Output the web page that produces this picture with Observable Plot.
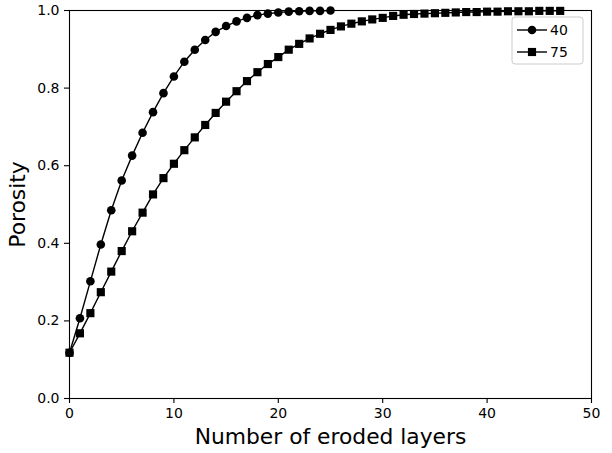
<!DOCTYPE html>
<html><head><meta charset="utf-8">
<script src="https://cdn.jsdelivr.net/npm/d3@7"></script>
<script src="https://cdn.jsdelivr.net/npm/@observablehq/plot@0.6"></script>
<style>html,body{margin:0;padding:0;background:#fff;overflow:hidden;} #chart{width:612px;height:453px;}</style>
</head><body><div id="chart"></div>
<script>
const seriesNames = ["40", "75"];
const layers40 = [0,1,2,3,4,5,6,7,8,9,10,11,12,13,14,15,16,17,18,19,20,21,22,23,24,25];
const porosity40 = [0.118,0.207,0.302,0.397,0.485,0.562,0.626,0.685,0.738,0.787,0.830,0.868,0.899,0.924,0.945,0.960,0.972,0.981,0.988,0.992,0.995,0.997,0.998,0.999,0.999,1.000];
const layers75 = [0,1,2,3,4,5,6,7,8,9,10,11,12,13,14,15,16,17,18,19,20,21,22,23,24,25,26,27,28,29,30,31,32,33,34,35,36,37,38,39,40,41,42,43,44,45,46,47];
const porosity75 = [0.118,0.168,0.220,0.274,0.327,0.380,0.431,0.479,0.526,0.568,0.605,0.640,0.673,0.705,0.736,0.765,0.792,0.818,0.841,0.862,0.880,0.899,0.914,0.928,0.940,0.950,0.959,0.966,0.972,0.977,0.981,0.986,0.989,0.991,0.992,0.993,0.994,0.995,0.996,0.996,0.997,0.997,0.998,0.998,0.998,0.999,0.999,0.999];
const xTicks = [0, 10, 20, 30, 40, 50];
const yTicks = [0.0, 0.2, 0.4, 0.6, 0.8, 1.0];
const xLabel = "Number of eroded layers";
const yLabel = "Porosity";

const d40 = layers40.map((x, i) => ({layer: x, porosity: porosity40[i], series: seriesNames[0]}));
const d75 = layers75.map((x, i) => ({layer: x, porosity: porosity75[i], series: seriesNames[1]}));

const font = "'DejaVu Sans', sans-serif";
const chart = Plot.plot({
  width: 612, height: 453,
  marginLeft: 69, marginRight: 21, marginTop: 10, marginBottom: 55,
  style: {fontFamily: font, background: "white", color: "black", overflow: "visible"},
  x: {domain: [0, 50]},
  y: {domain: [0, 1]},
  marks: [
    Plot.axisX({ticks: xTicks, tickSize: 5, tickPadding: 5, fontSize: 14, strokeWidth: 1.1, label: null, tickFormat: d3.format("d")}),
    Plot.axisY({ticks: yTicks, tickSize: 5, tickPadding: 5, fontSize: 14, strokeWidth: 1.1, label: null, tickFormat: d3.format(".1f")}),
    Plot.line(d40, {x: "layer", y: "porosity", stroke: "black", strokeWidth: 1.4}),
    Plot.line(d75, {x: "layer", y: "porosity", stroke: "black", strokeWidth: 1.4}),
    Plot.dot(d40, {x: "layer", y: "porosity", symbol: "circle", fill: "black", r: 4.3}),
    Plot.dot(d75, {x: "layer", y: "porosity", symbol: "square", fill: "black", r: 4.6}),
    Plot.frame({stroke: "black", strokeWidth: 1.1}),
    Plot.text([xLabel], {frameAnchor: "bottom", textAnchor: "middle", dy: 39, fontSize: 21.8, lineAnchor: "middle", fill: "black"}),
    Plot.text([yLabel], {frameAnchor: "left", textAnchor: "middle", dx: -51, rotate: -90, fontSize: 21.8, lineAnchor: "middle", fill: "black"})
  ]
});
document.getElementById("chart").appendChild(chart);

// legend
const svg = d3.select(chart);
const lg = svg.append("g").attr("font-family", font).attr("font-size", 14);
lg.append("rect").attr("x", 512).attr("y", 17).attr("width", 71).attr("height", 47)
  .attr("rx", 3).attr("fill", "white").attr("fill-opacity", 0.8).attr("stroke", "#cccccc").attr("stroke-width", 1);
const symbols = [d3.symbolCircle, d3.symbolSquare];
const sizes = [Math.PI * 4.3 * 4.3, Math.PI * 4.6 * 4.6];
seriesNames.forEach((name, i) => {
  const cy = 30 + i * 22;
  lg.append("line").attr("x1", 517).attr("x2", 547).attr("y1", cy).attr("y2", cy).attr("stroke", "black").attr("stroke-width", 1.4);
  lg.append("path").attr("d", d3.symbol(symbols[i], sizes[i])()).attr("transform", `translate(532,${cy})`).attr("fill", "black");
  lg.append("text").attr("x", 559).attr("y", cy).attr("dy", "0.35em").attr("fill", "black").text(name);
});
</script>
</body></html>
